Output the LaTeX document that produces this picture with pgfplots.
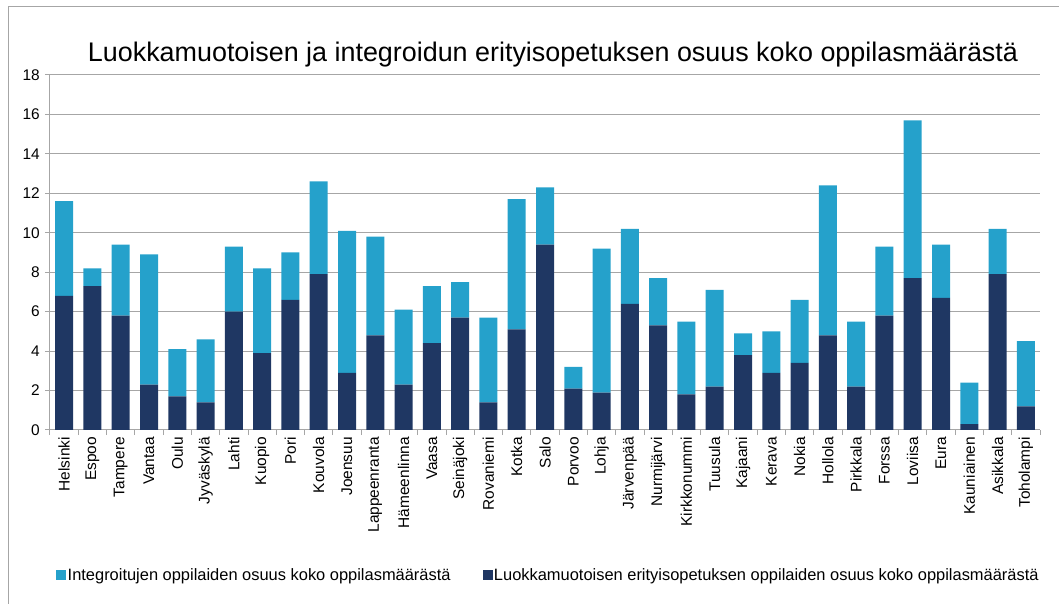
\documentclass[border=0pt]{standalone}
\usepackage{fontspec}
\setmainfont{Liberation Sans}
\usepackage{pgfplots}
\usepackage{pgfplotstable}
\pgfplotsset{compat=1.18}
\definecolor{lightb}{HTML}{25A1CB}
\definecolor{darkb}{HTML}{1F3763}
\definecolor{gridg}{HTML}{A6A6A6}
\pgfplotstableread{
x dark light
0 6.8 4.8
1 7.3 0.9
2 5.8 3.6
3 2.3 6.6
4 1.7 2.4
5 1.4 3.2
6 6.0 3.3
7 3.9 4.3
8 6.6 2.4
9 7.9 4.7
10 2.9 7.2
11 4.8 5.0
12 2.3 3.8
13 4.4 2.9
14 5.7 1.8
15 1.4 4.3
16 5.1 6.6
17 9.4 2.9
18 2.1 1.1
19 1.9 7.3
20 6.4 3.8
21 5.3 2.4
22 1.8 3.7
23 2.2 4.9
24 3.8 1.1
25 2.9 2.1
26 3.4 3.2
27 4.8 7.6
28 2.2 3.3
29 5.8 3.5
30 7.7 8.0
31 6.7 2.7
32 0.3 2.1
33 7.9 2.3
34 1.2 3.3
}\datatable
\begin{document}
\begin{tikzpicture}
\path[use as bounding box] (0,0) rectangle (1059bp,604bp);
\draw[gridg, line width=1bp] (8bp,0) -- (8bp,597bp) -- (1059bp,597bp);
\node[anchor=base, font=\fontsize{27}{31}\selectfont] at (553bp,542bp) {Luokkamuotoisen ja integroidun erityisopetuksen osuus koko oppilasmäärästä};
\begin{axis}[
  at={(50bp,174bp)}, anchor=south west,
  scale only axis, width=990bp, height=355bp,
  ybar stacked, bar width=18bp,
  xmin=-0.5, xmax=34.5, ymin=0, ymax=18,
  ytick={0,2,...,18},
  xtick={0,...,34},
  xticklabels={Helsinki,Espoo,Tampere,Vantaa,Oulu,Jyväskylä,Lahti,Kuopio,Pori,Kouvola,Joensuu,Lappeenranta,Hämeenlinna,Vaasa,Seinäjoki,Rovaniemi,Kotka,Salo,Porvoo,Lohja,Järvenpää,Nurmijärvi,Kirkkonummi,Tuusula,Kajaani,Kerava,Nokia,Hollola,Pirkkala,Forssa,Loviisa,Eura,Kauniainen,Asikkala,Toholampi},
  minor xtick={-0.5,0.5,...,34.5},
  axis x line*=bottom, axis y line*=left,
  axis line style={gridg, line width=1bp, -},
  ymajorgrids, major grid style={gridg, line width=1bp},
  tick align=outside, major tick length=5bp, minor tick length=5bp,
  major x tick style={draw=none},
  minor x tick style={gridg, line width=1bp},
  y tick style={gridg, line width=1bp},
  xticklabel style={rotate=90, anchor=east, font=\fontsize{15.5}{18}\selectfont, inner sep=2bp},
  yticklabel style={font=\fontsize{15.5}{18}\selectfont, inner sep=5bp},
  /pgf/number format/assume math mode=true,
  legend columns=2,
  legend style={draw=none, at={(0.5035,-0.408)}, anchor=center, font=\fontsize{16.5}{19}\selectfont,
    /tikz/every even column/.append style={column sep=30bp}},
  legend cell align=left,
]
\addplot[fill=darkb, draw=none, forget plot] table[x=x, y=dark] {\datatable};
\addplot[fill=lightb, draw=none, forget plot] table[x=x, y=light] {\datatable};
\addlegendimage{legend image code/.code={\fill[lightb] (0bp,-4.5bp) rectangle (9bp,4.5bp);}}
\addlegendentry{Integroitujen oppilaiden osuus koko oppilasmäärästä}
\addlegendimage{legend image code/.code={\fill[darkb] (0bp,-4.5bp) rectangle (9bp,4.5bp);}}
\addlegendentry{Luokkamuotoisen erityisopetuksen oppilaiden osuus koko oppilasmäärästä}
\end{axis}
\end{tikzpicture}
\end{document}
